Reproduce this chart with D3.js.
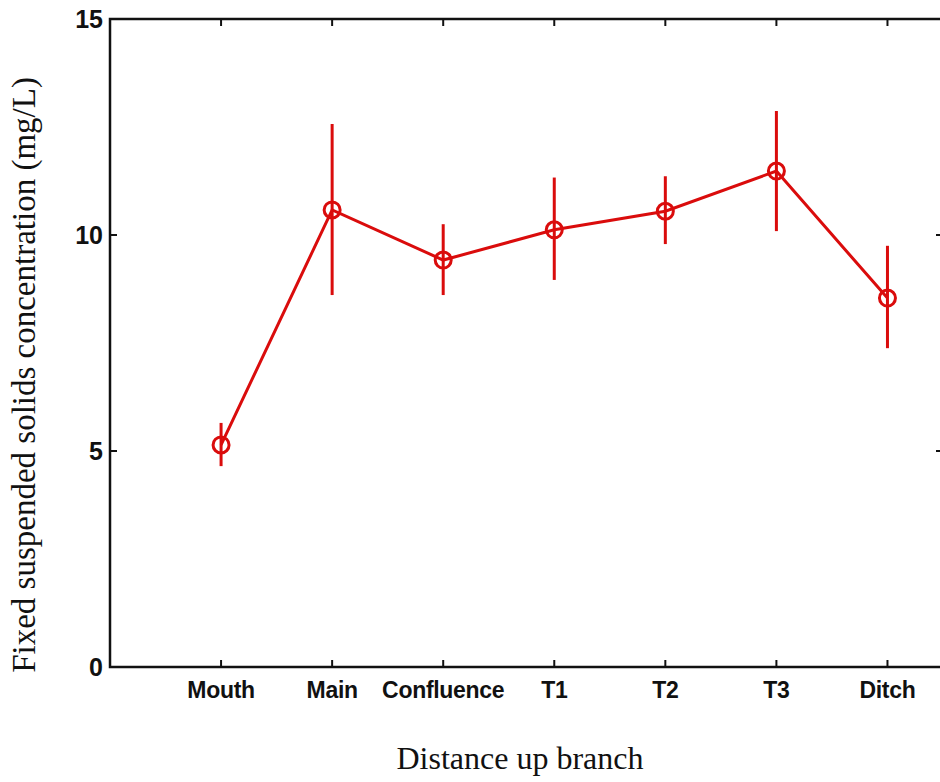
<!DOCTYPE html>
<html>
<head>
<meta charset="utf-8">
<script src="https://cdn.jsdelivr.net/npm/d3@7"></script>
<style>
  html, body { margin: 0; padding: 0; background: #fff; }
  svg { display: block; }
</style>
</head>
<body>
<svg id="chart" width="940" height="782"></svg>
<script>
// Sampling sites along the branch, with mean and error-bar limits (mg/L)
const sites = ["Mouth", "Main", "Confluence", "T1", "T2", "T3", "Ditch"];
const means = [5.14, 10.58, 9.42, 10.12, 10.55, 11.48, 8.54];
const upper = [5.65, 12.57, 10.25, 11.33, 11.36, 12.87, 9.75];
const lower = [4.65, 8.61, 8.61, 8.96, 9.79, 10.09, 7.38];
const yTicks = [0, 5, 10, 15];

const svg = d3.select("#chart");
const plotL = 110, plotR = 943, plotT = 19, plotB = 667;
const red = "#da0c0c";

const x = d3.scaleLinear().domain([0, 7.5]).range([plotL, plotR]);
const y = d3.scaleLinear().domain([0, 15]).range([plotB, plotT]);
const xi = (d, i) => x(i + 1);

// Frame
svg.append("rect")
  .attr("x", plotL).attr("y", plotT)
  .attr("width", plotR - plotL).attr("height", plotB - plotT)
  .attr("fill", "none").attr("stroke", "#111").attr("stroke-width", 2.5);

// Inward ticks on all four sides
const tickLen = 7;
const cats = sites.map((s, i) => i + 1);
const gTicks = svg.append("g").attr("stroke", "#111").attr("stroke-width", 2);
cats.forEach(c => {
  gTicks.append("line").attr("x1", x(c)).attr("x2", x(c)).attr("y1", plotB).attr("y2", plotB - tickLen);
  gTicks.append("line").attr("x1", x(c)).attr("x2", x(c)).attr("y1", plotT).attr("y2", plotT + tickLen);
});
yTicks.forEach(t => {
  gTicks.append("line").attr("x1", plotL).attr("x2", plotL + tickLen).attr("y1", y(t)).attr("y2", y(t));
  gTicks.append("line").attr("x1", plotR).attr("x2", plotR - tickLen).attr("y1", y(t)).attr("y2", y(t));
});

// Tick labels
svg.append("g").selectAll("text").data(sites).join("text")
  .attr("x", xi).attr("y", 698)
  .attr("text-anchor", "middle")
  .attr("font-family", "Liberation Sans, Arial, sans-serif")
  .attr("font-weight", "bold").attr("font-size", 23)
  .attr("letter-spacing", -0.3)
  .attr("fill", "#111")
  .text(d => d);

svg.append("g").selectAll("text").data(yTicks).join("text")
  .attr("x", 103).attr("y", d => y(d) + 8.5)
  .attr("text-anchor", "end")
  .attr("font-family", "Liberation Sans, Arial, sans-serif")
  .attr("font-weight", "bold").attr("font-size", 25)
  .attr("fill", "#111")
  .text(d => d);

// Axis titles
svg.append("text")
  .attr("x", 520).attr("y", 769)
  .attr("text-anchor", "middle")
  .attr("font-family", "Liberation Serif, Times New Roman, serif")
  .attr("font-size", 32).attr("fill", "#111")
  .text("Distance up branch");

svg.append("text")
  .attr("transform", `translate(35,${(plotT + plotB) / 2 + 32}) rotate(-90)`)
  .attr("text-anchor", "middle")
  .attr("font-family", "Liberation Serif, Times New Roman, serif")
  .attr("font-size", 33).attr("fill", "#111")
  .text("Fixed suspended solids concentration (mg/L)");

// Error bars
svg.append("g").selectAll("line").data(sites).join("line")
  .attr("x1", xi).attr("x2", xi)
  .attr("y1", (d, i) => y(upper[i])).attr("y2", (d, i) => y(lower[i]))
  .attr("stroke", red).attr("stroke-width", 3);

// Connecting line
const line = d3.line().x((d, i) => x(i + 1)).y(d => y(d));
svg.append("path").datum(means)
  .attr("d", line)
  .attr("fill", "none").attr("stroke", red).attr("stroke-width", 3);

// Circle markers
svg.append("g").selectAll("circle").data(means).join("circle")
  .attr("cx", (d, i) => x(i + 1)).attr("cy", d => y(d))
  .attr("r", 8)
  .attr("fill", "none").attr("stroke", red).attr("stroke-width", 3);
</script>
</body>
</html>
